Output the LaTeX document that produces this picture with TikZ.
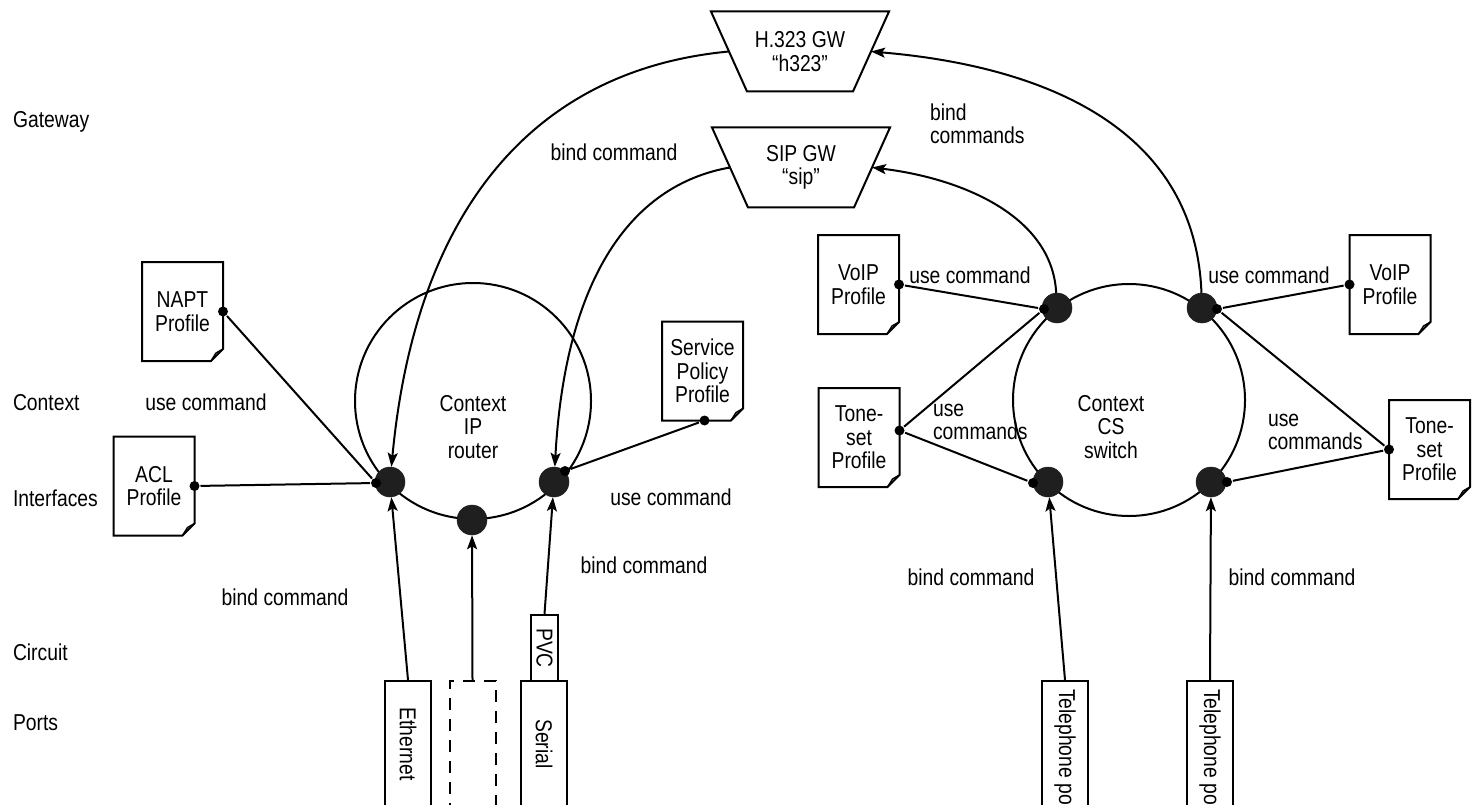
\documentclass[tikz,border=0pt]{standalone}
\usepackage{fontspec}
\setmainfont[FakeStretch=0.84]{Liberation Sans}
\usetikzlibrary{arrows.meta,calc}

\newcommand\mkprofile[3]{%
  \node[docnode] (#1) at (#2) {#3};
  \draw[docline] (#1.north west) -- (#1.north east) -- ([yshift=12pt]#1.south east)
     -- ([xshift=-12pt]#1.south east) -- (#1.south west) -- cycle;
  \draw[foldline] ([yshift=12pt]#1.south east) -- ([xshift=-7pt,yshift=8pt]#1.south east)
     -- ([xshift=-12pt]#1.south east);
}
\newcommand\mkgw[3]{%
  \node[gwnode] (#1) at (#2) {#3};
  \draw[docline] (#1.north west) -- (#1.north east) -- ([xshift=-36pt]#1.south east)
     -- ([xshift=36pt]#1.south west) -- cycle;
}

\begin{document}
\begin{tikzpicture}[x=1pt,y=-1pt,line width=2pt,
  every node/.style={font=\fontsize{23}{23.5}\selectfont, inner sep=0pt},
  lbl/.style={anchor=base west},
  docnode/.style={align=center, minimum width=79pt, minimum height=97pt},
  docline/.style={line width=2pt, line join=miter},
  foldline/.style={line width=1.4pt, line join=round},
  gwnode/.style={align=center, minimum width=176pt, minimum height=78pt},
  ctx/.style={draw, circle, minimum size=#1},
  iface/.style={circle, fill=black!88, draw=black!88, line width=0.5pt, minimum size=30pt},
  sdot/.style={circle, fill=black, minimum size=10pt},
  port/.style={draw, rotate=-90, anchor=west, minimum width=126pt, minimum height=46pt, inner xsep=8pt},
  arr/.style={-{Stealth[length=14pt,width=10pt,inset=3pt]}},
]
\useasboundingbox (0,0) rectangle (1477,805);
\clip (0,0) rectangle (1477,805);

% row labels
\node[lbl] (lgw)  at (12,128) {Gateway};
\node[lbl] (lctx) at (12,410) {Context};
\node[lbl] (lif)  at (12,506) {Interfaces};
\node[lbl] (lcir) at (12,660) {Circuit};
\node[lbl] (lprt) at (12,730) {Ports};

% gateways
\mkgw{h323}{800,51.5}{H.323 GW\\“h323”}
\mkgw{sip}{801,167.5}{SIP GW\\“sip”}

% contexts
\node[ctx=236pt] (ipc) at (473,401) {};
\node[ctx=232pt] (csc) at (1129,400) {};
\node[align=center] (iptxt) at (473,427) {Context\\IP\\router};
\node[align=center] (cstxt) at (1111,427) {Context\\CS\\switch};

% profiles
\mkprofile{napt}{182.5,311.5}{NAPT\\Profile}
\mkprofile{acl}{154,486}{ACL\\Profile}
\mkprofile{spp}{702.5,371}{Service\\Policy\\Profile}
\mkprofile{voipL}{858.5,284.5}{VoIP\\Profile}
\mkprofile{toneL}{859,437.5}{Tone-\\set\\Profile}
\mkprofile{voipR}{1390,284.5}{VoIP\\Profile}
\mkprofile{toneR}{1429.5,449.5}{Tone-\\set\\Profile}

% interfaces
\node[iface] (ipL) at (390,482) {};
\node[iface] (ipM) at (472,520) {};
\node[iface] (ipR) at (554,482) {};
\node[iface] (csUL) at (1057,308) {};
\node[iface] (csUR) at (1202,308) {};
\node[iface] (csLL) at (1048,482) {};
\node[iface] (csLR) at (1211,482) {};

% ports
\node[port] (eth) at (408,680) {Ethernet};
\node[port, dash pattern=on 12pt off 9pt] (dsh) at (472.5,680) {};
\node[port] (ser) at (544,680) {Serial};
\node[port, minimum width=66pt, minimum height=27pt, inner ysep=0.5pt, inner xsep=3pt] (pvc) at (544.5,614) {PVC};
\node[port] (tel1) at (1065,680) {Telephone port};
\node[port] (tel2) at (1210,680) {Telephone port};

% bind arrows from ports
\draw[arr] (eth.west) -- (ipL);
\draw[arr] (dsh.west) -- (ipM);
\draw[arr] (pvc.west) -- (ipR);
\draw[arr] (tel1.west) -- (csLL);
\draw[arr] (tel2.west) -- (csLR);

% bind arrows to/from gateways
\draw[arr] ([xshift=18pt]h323.west) .. controls (530,70) and (415,215) .. (ipL);
\draw[arr] ([xshift=18pt]sip.west) .. controls (630,185) and (565,280) .. (ipR);
\draw[arr] (csUL) .. controls (1052,215) and (960,178) .. ([xshift=-18pt]sip.east);
\draw[arr] (csUR) .. controls (1195,120) and (1030,65) .. ([xshift=-18pt]h323.east);

% small dots
\node[sdot] (naptD) at (napt.east) {};
\node[sdot] (aclD) at (acl.east) {};
\node[sdot] (sppD) at ([xshift=2pt]spp.south) {};
\node[sdot] (voipLD) at (voipL.east) {};
\node[sdot] (toneLD) at ([yshift=7pt]toneL.east) {};
\node[sdot] (voipRD) at (voipR.west) {};
\node[sdot] (toneRD) at (toneR.west) {};
\node[sdot] (ipLs) at (376,483) {};
\node[sdot] (ipRs) at (565,471) {};
\node[sdot] (csULs) at (1044,309) {};
\node[sdot] (csURs) at (1217,309) {};
\node[sdot] (csLLs) at (1033,483) {};
\node[sdot] (csLRs) at (1227,482) {};

% use command lines
\draw (naptD) -- (ipLs);
\draw (aclD) -- (ipLs);
\draw (sppD) -- (ipRs);
\draw (voipLD) -- (csULs);
\draw (toneLD) -- (csULs);
\draw (toneLD) -- (csLLs);
\draw (voipRD) -- (csURs);
\draw (toneRD) -- (csURs);
\draw (toneRD) -- (csLRs);

% command labels
\node (b1) at (614,152) {bind command};
\node[align=left, anchor=west] (b2) at (929,124) {bind\\commands};
\node (u1) at (206,402) {use command};
\node (u2) at (671,497) {use command};
\node (b3) at (285,597) {bind command};
\node (b4) at (644,565) {bind command};
\node (u3) at (970,275) {use command};
\node[align=left, anchor=west] (u4) at (932,422) {use\\commands};
\node (u5) at (1269,275) {use command};
\node[align=left, anchor=west] (u6) at (1267,432) {use\\commands};
\node (b5) at (971,577) {bind command};
\node (b6) at (1292,577) {bind command};
\end{tikzpicture}
\end{document}
